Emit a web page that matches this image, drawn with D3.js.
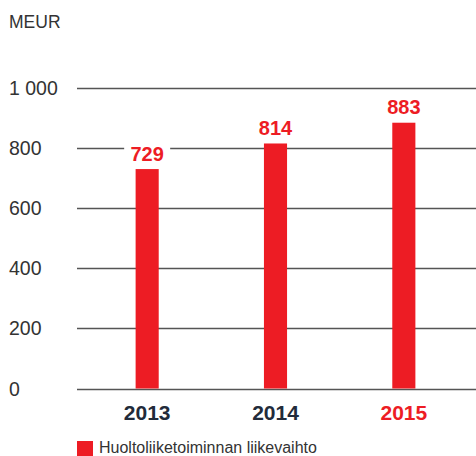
<!DOCTYPE html>
<html><head><meta charset="utf-8">
<script src="https://cdn.jsdelivr.net/npm/d3@7"></script>
<style>body{margin:0;background:#fff}svg{display:block}</style>
</head><body>
<svg id="c" width="476" height="456"></svg>
<script>
const years = ["2013","2014","2015"];
const values = [729, 814, 883];
const yTicks = [0, 200, 400, 600, 800, 1000];
const unitLabel = "MEUR";
const legendLabel = "Huoltoliiketoiminnan liikevaihto";

const red = "#ed1c24", dark = "#222b3a", grid = "#555";
const font = "'Liberation Sans', Arial, sans-serif";
const svg = d3.select("#c");
const fmt = d3.formatLocale({decimal:",", thousands:"\u00a0", grouping:[3], currency:["","€"]}).format(",d");

const y = d3.scaleLinear().domain([0, 1000]).range([388.5, 87.5]);
const x = d3.scaleBand().domain(years).range([83, 468]).paddingInner(0.82).paddingOuter(0.41);

// gridlines
svg.append("g").selectAll("line").data(yTicks).join("line")
  .attr("x1", 77).attr("x2", 476)
  .attr("y1", d => Math.round(y(d)) + 0.5).attr("y2", d => Math.round(y(d)) + 0.5)
  .attr("stroke", grid).attr("stroke-width", 1.3);

// tick labels
svg.append("g").selectAll("text").data(yTicks).join("text")
  .attr("x", 9).attr("y", d => y(d)).attr("dy", "0.36em")
  .attr("font-family", font).attr("font-size", 19.5).attr("fill", "#333")
  .text(d => fmt(d));

svg.append("text").attr("x", 9).attr("y", 28).attr("font-family", font)
  .attr("font-size", 17.5).attr("fill", "#333").text(unitLabel);

// bars
svg.append("g").selectAll("rect").data(values).join("rect")
  .attr("x", (d,i) => x(years[i])).attr("width", x.bandwidth())
  .attr("y", d => y(d)).attr("height", d => y(0) - y(d))
  .attr("fill", red);

// value labels with white backing
const lab = svg.append("g").selectAll("g").data(values).join("g");
lab.append("rect")
  .attr("x", (d,i) => x(years[i]) + x.bandwidth()/2 - 23)
  .attr("y", d => y(d) - 25).attr("width", 46).attr("height", 20)
  .attr("fill", "#fff");
lab.append("text")
  .attr("x", (d,i) => x(years[i]) + x.bandwidth()/2)
  .attr("y", d => y(d) - 8.5).attr("text-anchor", "middle")
  .attr("font-family", font).attr("font-weight", "bold").attr("font-size", 20)
  .attr("fill", red).text(d => d);

// year labels
svg.append("g").selectAll("text").data(years).join("text")
  .attr("x", d => x(d) + x.bandwidth()/2).attr("y", 420)
  .attr("text-anchor", "middle").attr("font-family", font)
  .attr("font-weight", "bold").attr("font-size", 21)
  .attr("fill", (d,i) => i === years.length - 1 ? red : dark).text(d => d);

// legend
svg.append("rect").attr("x", 77).attr("y", 441).attr("width", 16).attr("height", 15).attr("fill", red);
svg.append("text").attr("x", 99).attr("y", 452.5).attr("font-family", font)
  .attr("font-size", 16).attr("fill", "#333").text(legendLabel);
</script>
</body></html>
